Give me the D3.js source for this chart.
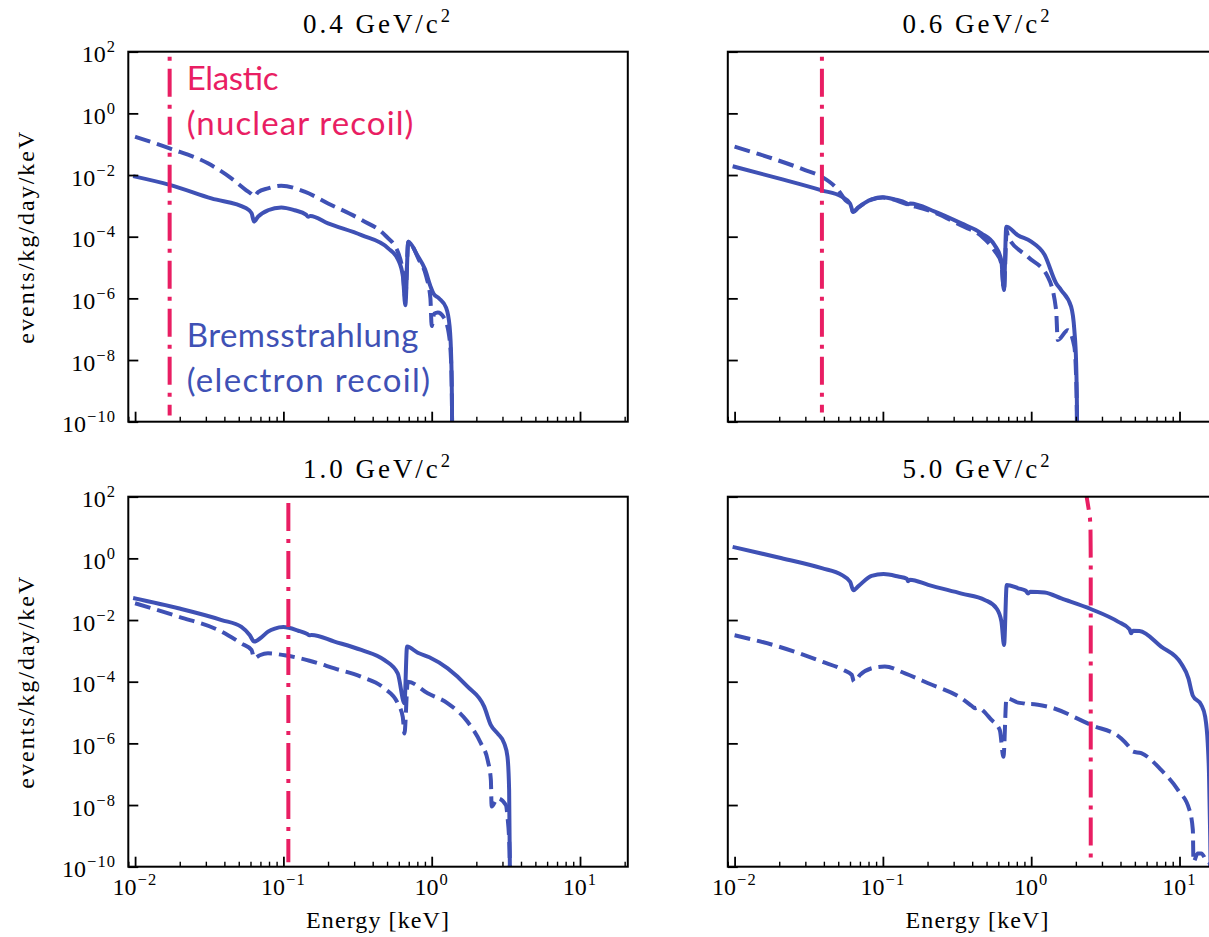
<!DOCTYPE html>
<html>
<head>
<meta charset="utf-8">
<script src="https://cdn.jsdelivr.net/npm/d3@7"></script>
<style>
  html, body { margin: 0; padding: 0; background: #fff; }
  svg { display: block; }
</style>
</head>
<body>
<svg id="fig" width="1209" height="937"></svg>
<script>
// Dark-matter masses shown in the four panels (GeV/c^2)
const massLabels = ["0.4", "0.6", "1.0", "5.0"];

// Decade exponents used for the major ticks
const xTickExponents = [-2, -1, 0, 1];
const yTickExponents = [2, 0, -2, -4, -6, -8, -10];

// Bremsstrahlung (electron recoil) spectra: [energy keV, events/kg/day/keV]
const bremSolid04 = [
  [0.0100, 8.9e-3], [0.0171, 4.8e-3], [0.0327, 1.74e-3], [0.0562, 8.3e-4], [0.0610, 5.8e-4],
  [0.0634, 3.1e-4], [0.0675, 4.5e-4], [0.0787, 7.2e-4], [0.0968, 8.9e-4], [0.119, 7.2e-4],
  [0.142, 5.2e-4], [0.147, 4.4e-4], [0.152, 4.7e-4], [0.200, 2.7e-4], [0.336, 1.12e-4],
  [0.509, 4.2e-5], [0.596, 1.74e-5], [0.640, 5.0e-6], [0.664, 6.0e-7], [0.695, 6.8e-5],
  [0.800, 2.5e-5], [0.900, 8.9e-6], [0.980, 2.5e-6], [1.030, 1.41e-6], [1.120, 1.0e-6],
  [1.250, 5.0e-7], [1.320, 1.26e-7], [1.355, 1.0e-8], [1.370, 3.2e-10], [1.375, 1e-11]
];
const bremDashed04 = [
  [0.0100, 0.175], [0.0171, 7.3e-2], [0.0310, 2.4e-2], [0.0446, 7.8e-3], [0.0562, 3.2e-3],
  [0.0610, 2.4e-3], [0.0634, 2.0e-3], [0.0675, 2.8e-3], [0.0787, 3.7e-3], [0.0968, 4.5e-3],
  [0.139, 2.9e-3], [0.200, 1.2e-3], [0.336, 3.5e-4], [0.484, 1.12e-4], [0.596, 2.9e-5],
  [0.640, 6.3e-6], [0.664, 1.0e-6], [0.695, 6.9e-5], [0.820, 1.78e-5], [0.920, 5.0e-6],
  [0.980, 1.0e-6], [1.000, 1.26e-7], [1.040, 3.2e-7], [1.100, 3.5e-7], [1.200, 2.5e-7],
  [1.300, 7.9e-8], [1.350, 1.0e-8], [1.370, 3.2e-10], [1.375, 1e-11]
];

const bremSolid06 = [
  [0.0100, 1.86e-2], [0.0198, 7.8e-3], [0.0386, 3.2e-3], [0.0527, 2.0e-3], [0.0600, 1.2e-3],
  [0.0630, 6.5e-4], [0.0682, 8.9e-4], [0.0839, 1.62e-3], [0.100, 1.9e-3], [0.120, 1.62e-3],
  [0.143, 1.25e-3], [0.148, 1.12e-3], [0.153, 1.2e-3], [0.224, 6.5e-4], [0.338, 2.7e-4],
  [0.461, 1.29e-4], [0.566, 5.4e-5], [0.628, 1.74e-5], [0.655, 1.86e-6], [0.679, 2.1e-4],
  [0.813, 1.12e-4], [1.000, 6.9e-5], [1.230, 2.6e-5], [1.472, 3.1e-6], [1.592, 1.86e-6],
  [1.858, 5.4e-7], [1.954, 9.3e-8], [2.009, 7.8e-9], [2.037, 1.45e-10], [2.040, 1e-11]
];
const bremDashed06 = [
  [0.0100, 8.3e-2], [0.0178, 3.5e-2], [0.0299, 1.45e-2], [0.0386, 8.9e-3], [0.0501, 3.2e-3],
  [0.0560, 1.5e-3], [0.0600, 1.12e-3], [0.0630, 6.3e-4], [0.0682, 8.7e-4], [0.0839, 1.58e-3],
  [0.100, 1.86e-3], [0.148, 1.1e-3], [0.224, 6.0e-4], [0.338, 2.3e-4], [0.461, 1.05e-4],
  [0.566, 3.5e-5], [0.628, 1.4e-5], [0.655, 1.86e-6], [0.684, 1.6e-4], [0.697, 1.0e-4],
  [0.953, 2.2e-5], [1.294, 5.0e-6], [1.472, 4.2e-7], [1.510, 4.5e-8], [1.766, 9.3e-8],
  [1.954, 2.7e-8], [2.020, 1.0e-9], [2.040, 1e-11]
];

const bremSolid10 = [
  [0.0100, 5.0e-2], [0.0196, 2.4e-2], [0.0383, 1.0e-2], [0.0521, 6.0e-3], [0.0594, 3.2e-3],
  [0.0635, 2.0e-3], [0.0711, 2.75e-3], [0.0788, 4.2e-3], [0.0875, 5.3e-3], [0.100, 5.9e-3],
  [0.126, 4.5e-3], [0.145, 3.5e-3], [0.150, 3.2e-3], [0.155, 3.3e-3], [0.221, 2.0e-3],
  [0.335, 1.07e-3], [0.481, 5.0e-4], [0.590, 1.86e-4], [0.655, 2.0e-5], [0.682, 1.38e-3],
  [0.805, 8.7e-4], [0.964, 6.2e-4], [1.282, 2.7e-4], [1.746, 6.9e-5], [2.259, 1.55e-5],
  [2.506, 3.9e-6], [2.780, 2.1e-6], [3.083, 1.0e-6], [3.243, 3.7e-7], [3.327, 3.1e-8],
  [3.381, 1e-11]
];
const bremDashed10 = [
  [0.0100, 3.5e-2], [0.0196, 1.29e-2], [0.0383, 4.2e-3], [0.0521, 1.74e-3], [0.0610, 1.07e-3],
  [0.0635, 5.75e-4], [0.0693, 7.2e-4], [0.0787, 8.3e-4], [0.102, 7.2e-4], [0.150, 4.8e-4],
  [0.221, 2.7e-4], [0.335, 1.45e-4], [0.481, 6.0e-5], [0.590, 2.0e-5], [0.638, 7.2e-6],
  [0.655, 2.1e-6], [0.690, 1.0e-4], [0.940, 4.2e-5], [1.282, 2.0e-5], [1.746, 5.0e-6],
  [2.148, 1.0e-6], [2.382, 2.9e-7], [2.506, 6.5e-8], [2.535, 8.9e-9], [2.780, 1.66e-8],
  [3.162, 1.0e-8], [3.243, 4.2e-9], [3.350, 3.2e-10], [3.381, 1e-11]
];

const bremSolid50 = [
  [0.0100, 2.28], [0.0198, 1.07], [0.0387, 0.48], [0.0527, 0.29], [0.0601, 0.174],
  [0.0632, 9.3e-2], [0.0684, 0.126], [0.0839, 0.269], [0.101, 0.309], [0.127, 0.257],
  [0.145, 0.219], [0.148, 0.182], [0.152, 0.204], [0.202, 0.138], [0.339, 7.2e-2],
  [0.486, 4.5e-2], [0.583, 2.4e-2], [0.630, 8.9e-3], [0.656, 1.55e-3], [0.684, 0.138],
  [0.817, 0.107], [0.920, 8.9e-2], [0.953, 7.2e-2], [0.985, 8.3e-2], [1.233, 7.8e-2],
  [1.596, 5.0e-2], [2.541, 2.24e-2], [3.846, 8.9e-3], [4.600, 5.0e-3], [4.721, 3.7e-3],
  [4.850, 4.5e-3], [5.370, 4.4e-3], [7.516, 1.38e-3], [10.26, 3.9e-4], [11.50, 1.26e-4],
  [12.10, 4.5e-5], [12.30, 3.5e-5], [14.0, 1.78e-5], [14.9, 7.2e-6], [15.5, 1.0e-6],
  [15.8, 1.1e-7], [16.1, 1e-9], [16.3, 1e-11]
];
const bremDashed50 = [
  [0.0100, 3.2e-3], [0.0198, 1.38e-3], [0.0387, 4.5e-4], [0.0542, 2.4e-4], [0.0617, 1.66e-4],
  [0.0638, 1.0e-4], [0.0701, 1.66e-4], [0.0885, 2.9e-4], [0.103, 3.1e-4], [0.141, 1.86e-4],
  [0.202, 8.9e-5], [0.339, 2.9e-5], [0.400, 1.6e-5], [0.417, 1.38e-5], [0.430, 1.45e-5],
  [0.540, 5.75e-6], [0.614, 2.7e-6], [0.650, 3.7e-7], [0.681, 2.9e-5], [0.817, 2.1e-5],
  [0.920, 1.9e-5], [0.953, 1.74e-5], [0.985, 1.9e-5], [1.297, 1.55e-5], [2.541, 3.9e-6],
  [4.046, 1.45e-6], [4.700, 6.6e-7], [4.853, 5.4e-7], [5.521, 4.8e-7], [7.516, 1.38e-7],
  [9.75, 3.1e-8], [11.67, 6.9e-9], [12.30, 1.55e-9], [12.42, 1.45e-10], [13.27, 2.7e-10],
  [14.03, 2.7e-10], [15.14, 1.62e-10], [16.0, 1.26e-10], [16.3, 1e-11]
];

// Elastic (nuclear recoil) spectra near their kinematic endpoints
const elastic04 = [[0.0171, 1e3], [0.0171, 1.6e-10]];
const elastic06 = [[0.0388, 1e3], [0.0388, 2.0e-10]];
const elastic10 = [[0.108, 62], [0.108, 1.4e-10]];
const elastic50 = [[2.30, 300], [2.365, 100], [2.44, 40], [2.49, 20], [2.51, 10], [2.52, 1], [2.52, 1.3e-10]];

// ---------------------------------------------------------------------------
const blue = "#3F51B5";
const pink = "#E91E63";
const serif = "'Liberation Serif', 'Times New Roman', serif";
const sans = "Lato, 'Open Sans', sans-serif";

const svg = d3.select("#fig");
const defs = svg.append("defs");

const xDomain = [0.009, 21];
const yDomain = [1e-10, 1e2];
const panelW = 499.5, panelH = 370;
const colX = [128.3, 727.8];
const rowY = [51.7, 496.7];

const panels = [
  { mass: massLabels[0], solid: bremSolid04, dashed: bremDashed04, elastic: elastic04, col: 0, row: 0 },
  { mass: massLabels[1], solid: bremSolid06, dashed: bremDashed06, elastic: elastic06, col: 1, row: 0 },
  { mass: massLabels[2], solid: bremSolid10, dashed: bremDashed10, elastic: elastic10, col: 0, row: 1 },
  { mass: massLabels[3], solid: bremSolid50, dashed: bremDashed50, elastic: elastic50, col: 1, row: 1 }
];

const xMajor = xTickExponents.map(e => Math.pow(10, e));
const yMajor = yTickExponents.map(e => Math.pow(10, e));
const xMinor = [];
for (let e = -3; e <= 1; e++) {
  for (let m = 2; m <= 9; m++) {
    const v = m * Math.pow(10, e);
    if (v > xDomain[0] && v < xDomain[1]) xMinor.push(v);
  }
}

// "10" with a raised exponent
function supText(sel, exp) {
  sel.append("tspan").text("10");
  sel.append("tspan")
    .attr("font-size", 16.5)
    .attr("dx", 1)
    .attr("dy", -10)
    .attr("letter-spacing", 1.2)
    .text(exp < 0 ? "\u2212" + Math.abs(exp) : String(exp));
}

// spread glyphs so the string spans the wanted width
function fitSpacing(sel, target) {
  const node = sel.node();
  const n = node.textContent.length;
  const w = node.getComputedTextLength();
  sel.attr("letter-spacing", ((target - w) / n).toFixed(2));
}

panels.forEach((p, i) => {
  const x0 = colX[p.col], y0 = rowY[p.row];
  const x = d3.scaleLog().domain(xDomain).range([x0, x0 + panelW]);
  const y = d3.scaleLog().domain(yDomain).range([y0 + panelH, y0]);

  const clipId = "plot-clip-" + i;
  defs.append("clipPath").attr("id", clipId)
    .append("rect").attr("x", x0).attr("y", y0).attr("width", panelW).attr("height", panelH);

  const g = svg.append("g").attr("class", "panel");
  const plot = g.append("g").attr("clip-path", `url(#${clipId})`);
  const smooth = d3.line().x(d => x(d[0])).y(d => y(d[1])).curve(d3.curveMonotoneX);
  const straight = d3.line().x(d => x(d[0])).y(d => y(d[1]));

  plot.append("path").datum(p.solid)
    .attr("d", smooth).attr("fill", "none").attr("stroke", blue)
    .attr("stroke-width", 4).attr("stroke-linejoin", "round").attr("stroke-linecap", "square");

  plot.append("path").datum(p.dashed)
    .attr("d", smooth).attr("fill", "none").attr("stroke", blue)
    .attr("stroke-width", 4).attr("stroke-linejoin", "round").attr("stroke-linecap", "butt")
    .attr("stroke-dasharray", "16,7");

  plot.append("path").datum(p.elastic)
    .attr("d", straight).attr("fill", "none").attr("stroke", pink)
    .attr("stroke-width", 4).attr("stroke-linejoin", "round").attr("stroke-linecap", "butt")
    .attr("stroke-dasharray", "28,8,4,8");

  // inward ticks
  const styleTicks = (s, w) => {
    s.select(".domain").remove();
    s.selectAll(".tick line").attr("stroke", "#000").attr("stroke-width", w);
  };
  g.append("g").attr("transform", `translate(${x0},0)`)
    .call(d3.axisLeft(y).tickValues(yMajor).tickSize(-10).tickFormat(""))
    .call(s => styleTicks(s, 1.8));
  g.append("g").attr("transform", `translate(0,${y0 + panelH})`)
    .call(d3.axisBottom(x).tickValues(xMajor).tickSize(-10).tickFormat(""))
    .call(s => styleTicks(s, 1.8));
  g.append("g").attr("transform", `translate(0,${y0 + panelH})`)
    .call(d3.axisBottom(x).tickValues(xMinor).tickSize(-5).tickFormat(""))
    .call(s => styleTicks(s, 1.4));

  // frame
  g.append("rect").attr("x", x0).attr("y", y0).attr("width", panelW).attr("height", panelH)
    .attr("fill", "none").attr("stroke", "#000").attr("stroke-width", 2);

  // title
  const title = g.append("text")
    .attr("x", x0 + panelW / 2).attr("y", y0 - 18.7)
    .attr("text-anchor", "middle").attr("font-family", serif).attr("font-size", 27).attr("fill", "#000");
  title.append("tspan").text(p.mass + " GeV/c");
  title.append("tspan").attr("font-size", 18.5).attr("dy", -11).text("2");
  fitSpacing(title, 150);

  // y tick labels on the left column
  if (p.col === 0) {
    yTickExponents.forEach(e => {
      const t = g.append("text")
        .attr("x", x0 - 12).attr("y", y(Math.pow(10, e)) + 10.5)
        .attr("text-anchor", "end").attr("font-family", serif).attr("font-size", 24).attr("fill", "#000");
      supText(t, e);
    });
    const yl = g.append("text")
      .attr("transform", `translate(34,${y0 + panelH / 2}) rotate(-90)`)
      .attr("text-anchor", "middle").attr("font-family", serif).attr("font-size", 24).attr("fill", "#000")
      .text("events/kg/day/keV");
    fitSpacing(yl, 214);
  }

  // x tick labels on the bottom row
  if (p.row === 1) {
    xTickExponents.forEach(e => {
      const t = g.append("text")
        .attr("x", x(Math.pow(10, e))).attr("y", y0 + panelH + 28.3)
        .attr("text-anchor", "middle").attr("font-family", serif).attr("font-size", 24).attr("fill", "#000");
      supText(t, e);
    });
    const xl = g.append("text")
      .attr("x", x0 + panelW / 2).attr("y", 928)
      .attr("text-anchor", "middle").attr("font-family", serif).attr("font-size", 24).attr("fill", "#000")
      .text("Energy [keV]");
    fitSpacing(xl, 144);
  }

  // annotations in the first panel
  if (i === 0) {
    const notes = [
      { text: "Elastic", color: pink, dy: 38.3, width: 91.7 },
      { text: "(nuclear recoil)", color: pink, dy: 83.3, width: 226.7 },
      { text: "Bremsstrahlung", color: blue, dy: 295, width: 231.7 },
      { text: "(electron recoil)", color: blue, dy: 340, width: 243.3 }
    ];
    notes.forEach(n => {
      g.append("text")
        .attr("x", 186.7).attr("y", y0 + n.dy)
        .attr("font-family", sans).attr("font-size", 33).attr("fill", n.color)
        .attr("textLength", n.width).attr("lengthAdjust", "spacing")
        .text(n.text);
    });
  }
});
</script>
</body>
</html>
